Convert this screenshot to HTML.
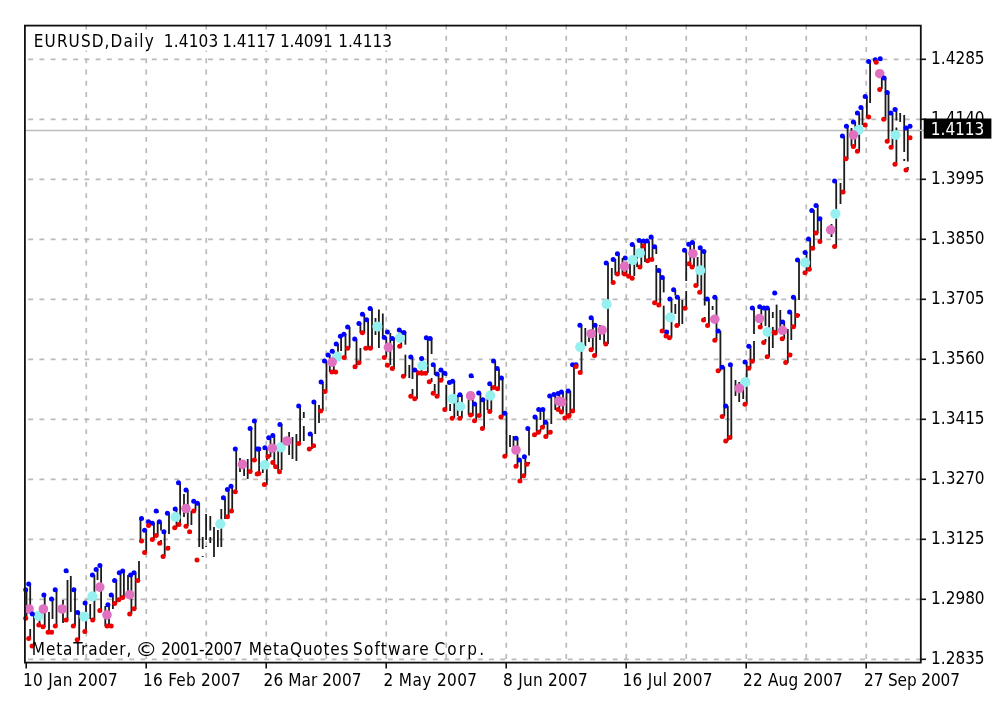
<!DOCTYPE html><html><head><meta charset="utf-8"><style>
html,body{margin:0;padding:0;background:#fff;width:1003px;height:713px;overflow:hidden}
svg{display:block;filter:blur(0.45px)}
text{font-family:'DejaVu Sans Condensed', 'DejaVu Sans', 'Liberation Sans', sans-serif;font-size:17px;fill:#000;font-stretch:condensed}
</style></head><body>
<svg width="1003" height="713" viewBox="0 0 1003 713">
<rect width="1003" height="713" fill="#fff"/>
<g stroke="#bababa" stroke-width="1.7" stroke-dasharray="4.9 6.34" fill="none">
<line x1="28.2" y1="59.3" x2="920" y2="59.3"/>
<line x1="28.2" y1="119.3" x2="920" y2="119.3"/>
<line x1="28.2" y1="179.3" x2="920" y2="179.3"/>
<line x1="28.2" y1="239.3" x2="920" y2="239.3"/>
<line x1="28.2" y1="299.3" x2="920" y2="299.3"/>
<line x1="28.2" y1="359.3" x2="920" y2="359.3"/>
<line x1="28.2" y1="419.3" x2="920" y2="419.3"/>
<line x1="28.2" y1="479.3" x2="920" y2="479.3"/>
<line x1="28.2" y1="539.3" x2="920" y2="539.3"/>
<line x1="28.2" y1="599.3" x2="920" y2="599.3"/>
<line x1="28.2" y1="659.3" x2="920" y2="659.3"/>
<line x1="86.25" y1="24.55" x2="86.25" y2="662"/>
<line x1="146.25" y1="24.55" x2="146.25" y2="662"/>
<line x1="206.25" y1="24.55" x2="206.25" y2="662"/>
<line x1="266.25" y1="24.55" x2="266.25" y2="662"/>
<line x1="326.25" y1="24.55" x2="326.25" y2="662"/>
<line x1="386.25" y1="24.55" x2="386.25" y2="662"/>
<line x1="446.25" y1="24.55" x2="446.25" y2="662"/>
<line x1="506.25" y1="24.55" x2="506.25" y2="662"/>
<line x1="566.25" y1="24.55" x2="566.25" y2="662"/>
<line x1="626.25" y1="24.55" x2="626.25" y2="662"/>
<line x1="686.25" y1="24.55" x2="686.25" y2="662"/>
<line x1="746.25" y1="24.55" x2="746.25" y2="662"/>
<line x1="806.25" y1="24.55" x2="806.25" y2="662"/>
<line x1="866.25" y1="24.55" x2="866.25" y2="662"/>
</g>
<line x1="25" y1="130.4" x2="924" y2="130.4" stroke="#bdbdbd" stroke-width="1.5"/>
<g stroke="#1c1c1c" stroke-width="1.8" fill="none">
<line x1="26.5" y1="589.0" x2="26.5" y2="618.0"/>
<line x1="30.2" y1="584.0" x2="30.2" y2="614.0"/>
<line x1="30.2" y1="629.0" x2="30.2" y2="639.0"/>
<line x1="34.0" y1="614.0" x2="34.0" y2="646.0"/>
<line x1="39.5" y1="612.0" x2="39.5" y2="625.0"/>
<line x1="44.7" y1="595.0" x2="44.7" y2="627.0"/>
<line x1="49.0" y1="612.0" x2="49.0" y2="632.0"/>
<line x1="52.5" y1="599.0" x2="52.5" y2="619.0"/>
<line x1="52.5" y1="630.0" x2="52.5" y2="632.0"/>
<line x1="56.5" y1="590.0" x2="56.5" y2="626.0"/>
<line x1="63.0" y1="600.0" x2="63.0" y2="623.0"/>
<line x1="67.5" y1="571.0" x2="67.5" y2="573.0"/>
<line x1="67.5" y1="580.0" x2="67.5" y2="620.0"/>
<line x1="70.8" y1="576.0" x2="70.8" y2="612.0"/>
<line x1="75.0" y1="590.0" x2="75.0" y2="626.0"/>
<line x1="79.2" y1="612.0" x2="79.2" y2="640.0"/>
<line x1="86.0" y1="603.0" x2="86.0" y2="631.0"/>
<line x1="90.2" y1="604.0" x2="90.2" y2="619.0"/>
<line x1="94.4" y1="575.0" x2="94.4" y2="620.0"/>
<line x1="97.5" y1="569.5" x2="97.5" y2="580.0"/>
<line x1="101.1" y1="565.6" x2="101.1" y2="611.0"/>
<line x1="105.3" y1="606.0" x2="105.3" y2="626.0"/>
<line x1="109.0" y1="605.0" x2="109.0" y2="626.0"/>
<line x1="112.9" y1="595.0" x2="112.9" y2="609.0"/>
<line x1="116.3" y1="580.0" x2="116.3" y2="604.0"/>
<line x1="120.5" y1="573.0" x2="120.5" y2="600.0"/>
<line x1="123.9" y1="571.0" x2="123.9" y2="598.0"/>
<line x1="128.0" y1="575.0" x2="128.0" y2="597.0"/>
<line x1="131.4" y1="574.0" x2="131.4" y2="614.0"/>
<line x1="135.6" y1="573.0" x2="135.6" y2="609.0"/>
<line x1="139.0" y1="561.0" x2="139.0" y2="581.0"/>
<line x1="140.5" y1="519.0" x2="140.5" y2="541.0"/>
<line x1="146.2" y1="530.0" x2="146.2" y2="552.0"/>
<line x1="150.0" y1="521.0" x2="150.0" y2="526.0"/>
<line x1="153.9" y1="523.0" x2="153.9" y2="539.0"/>
<line x1="157.7" y1="511.0" x2="157.7" y2="513.0"/>
<line x1="157.7" y1="522.0" x2="157.7" y2="535.0"/>
<line x1="161.0" y1="522.0" x2="161.0" y2="530.5"/>
<line x1="161.0" y1="540.0" x2="161.0" y2="543.0"/>
<line x1="164.7" y1="532.0" x2="164.7" y2="556.0"/>
<line x1="169.0" y1="513.0" x2="169.0" y2="534.0"/>
<line x1="169.0" y1="546.0" x2="169.0" y2="548.0"/>
<line x1="176.5" y1="509.0" x2="176.5" y2="528.0"/>
<line x1="180.1" y1="483.0" x2="180.1" y2="524.0"/>
<line x1="184.0" y1="494.0" x2="184.0" y2="517.0"/>
<line x1="187.8" y1="490.0" x2="187.8" y2="526.0"/>
<line x1="191.4" y1="511.0" x2="191.4" y2="525.0"/>
<line x1="195.5" y1="501.0" x2="195.5" y2="511.0"/>
<line x1="199.2" y1="503.0" x2="199.2" y2="547.0"/>
<line x1="202.7" y1="537.0" x2="202.7" y2="549.0"/>
<line x1="202.7" y1="556.0" x2="202.7" y2="557.0"/>
<line x1="206.1" y1="514.0" x2="206.1" y2="540.0"/>
<line x1="206.1" y1="546.0" x2="206.1" y2="547.0"/>
<line x1="210.3" y1="516.0" x2="210.3" y2="530.5"/>
<line x1="210.3" y1="537.0" x2="210.3" y2="543.0"/>
<line x1="214.0" y1="527.0" x2="214.0" y2="557.0"/>
<line x1="217.9" y1="530.0" x2="217.9" y2="547.0"/>
<line x1="221.3" y1="509.0" x2="221.3" y2="547.0"/>
<line x1="225.0" y1="498.0" x2="225.0" y2="519.0"/>
<line x1="228.6" y1="489.0" x2="228.6" y2="517.0"/>
<line x1="232.2" y1="486.0" x2="232.2" y2="512.0"/>
<line x1="236.2" y1="449.0" x2="236.2" y2="492.0"/>
<line x1="240.0" y1="458.0" x2="240.0" y2="472.0"/>
<line x1="244.1" y1="460.0" x2="244.1" y2="476.0"/>
<line x1="247.7" y1="459.0" x2="247.7" y2="479.0"/>
<line x1="251.3" y1="428.0" x2="251.3" y2="472.0"/>
<line x1="255.3" y1="421.0" x2="255.3" y2="461.0"/>
<line x1="259.1" y1="449.0" x2="259.1" y2="474.0"/>
<line x1="262.8" y1="462.0" x2="262.8" y2="473.0"/>
<line x1="266.8" y1="448.0" x2="266.8" y2="485.0"/>
<line x1="270.5" y1="438.0" x2="270.5" y2="457.0"/>
<line x1="274.3" y1="436.0" x2="274.3" y2="467.0"/>
<line x1="278.2" y1="445.0" x2="278.2" y2="472.0"/>
<line x1="281.6" y1="424.0" x2="281.6" y2="470.0"/>
<line x1="289.1" y1="432.0" x2="289.1" y2="455.0"/>
<line x1="292.5" y1="437.0" x2="292.5" y2="459.0"/>
<line x1="296.4" y1="434.0" x2="296.4" y2="461.0"/>
<line x1="300.1" y1="406.0" x2="300.1" y2="444.0"/>
<line x1="303.8" y1="412.0" x2="303.8" y2="418.0"/>
<line x1="303.8" y1="426.0" x2="303.8" y2="441.0"/>
<line x1="311.9" y1="434.0" x2="311.9" y2="449.0"/>
<line x1="315.2" y1="402.0" x2="315.2" y2="434.0"/>
<line x1="319.0" y1="405.0" x2="319.0" y2="423.0"/>
<line x1="322.8" y1="382.0" x2="322.8" y2="411.0"/>
<line x1="326.5" y1="361.0" x2="326.5" y2="391.0"/>
<line x1="329.8" y1="355.0" x2="329.8" y2="372.0"/>
<line x1="333.8" y1="351.0" x2="333.8" y2="372.0"/>
<line x1="338.0" y1="344.0" x2="338.0" y2="360.0"/>
<line x1="341.1" y1="336.0" x2="341.1" y2="351.0"/>
<line x1="345.5" y1="334.0" x2="345.5" y2="357.0"/>
<line x1="349.6" y1="327.0" x2="349.6" y2="348.0"/>
<line x1="356.5" y1="339.0" x2="356.5" y2="367.0"/>
<line x1="360.4" y1="323.0" x2="360.4" y2="333.0"/>
<line x1="360.4" y1="348.0" x2="360.4" y2="363.0"/>
<line x1="364.3" y1="314.0" x2="364.3" y2="333.0"/>
<line x1="368.1" y1="320.0" x2="368.1" y2="348.0"/>
<line x1="372.0" y1="308.6" x2="372.0" y2="349.0"/>
<line x1="375.5" y1="318.0" x2="375.5" y2="335.0"/>
<line x1="378.9" y1="309.6" x2="378.9" y2="348.0"/>
<line x1="382.8" y1="313.5" x2="382.8" y2="338.0"/>
<line x1="386.3" y1="337.0" x2="386.3" y2="357.0"/>
<line x1="390.3" y1="333.0" x2="390.3" y2="365.0"/>
<line x1="394.0" y1="338.0" x2="394.0" y2="369.0"/>
<line x1="401.2" y1="330.0" x2="401.2" y2="346.0"/>
<line x1="405.4" y1="332.0" x2="405.4" y2="344.7"/>
<line x1="405.4" y1="354.7" x2="405.4" y2="376.0"/>
<line x1="409.3" y1="365.0" x2="409.3" y2="378.0"/>
<line x1="412.5" y1="357.0" x2="412.5" y2="379.0"/>
<line x1="412.5" y1="389.0" x2="412.5" y2="396.0"/>
<line x1="417.0" y1="370.0" x2="417.0" y2="399.0"/>
<line x1="421.5" y1="358.0" x2="421.5" y2="373.0"/>
<line x1="427.8" y1="338.0" x2="427.8" y2="373.0"/>
<line x1="431.6" y1="338.0" x2="431.6" y2="354.0"/>
<line x1="431.6" y1="378.0" x2="431.6" y2="382.0"/>
<line x1="434.7" y1="365.0" x2="434.7" y2="375.0"/>
<line x1="434.7" y1="384.0" x2="434.7" y2="393.0"/>
<line x1="438.6" y1="374.0" x2="438.6" y2="396.0"/>
<line x1="442.5" y1="370.0" x2="442.5" y2="380.0"/>
<line x1="446.3" y1="373.0" x2="446.3" y2="376.0"/>
<line x1="446.3" y1="385.0" x2="446.3" y2="409.0"/>
<line x1="450.1" y1="404.0" x2="450.1" y2="411.0"/>
<line x1="454.3" y1="381.0" x2="454.3" y2="418.0"/>
<line x1="457.7" y1="395.0" x2="457.7" y2="416.0"/>
<line x1="461.9" y1="395.0" x2="461.9" y2="418.0"/>
<line x1="468.6" y1="400.0" x2="468.6" y2="415.0"/>
<line x1="472.8" y1="376.0" x2="472.8" y2="378.0"/>
<line x1="472.8" y1="392.0" x2="472.8" y2="416.0"/>
<line x1="476.2" y1="404.0" x2="476.2" y2="421.0"/>
<line x1="480.4" y1="393.0" x2="480.4" y2="416.0"/>
<line x1="484.1" y1="400.0" x2="484.1" y2="428.0"/>
<line x1="487.5" y1="395.0" x2="487.5" y2="410.0"/>
<line x1="491.3" y1="384.0" x2="491.3" y2="412.0"/>
<line x1="495.2" y1="361.0" x2="495.2" y2="388.0"/>
<line x1="499.0" y1="369.0" x2="499.0" y2="389.0"/>
<line x1="502.6" y1="378.0" x2="502.6" y2="417.0"/>
<line x1="506.5" y1="413.0" x2="506.5" y2="456.0"/>
<line x1="510.0" y1="435.0" x2="510.0" y2="447.0"/>
<line x1="513.5" y1="436.0" x2="513.5" y2="447.0"/>
<line x1="517.5" y1="438.0" x2="517.5" y2="466.0"/>
<line x1="521.0" y1="460.0" x2="521.0" y2="481.0"/>
<line x1="525.3" y1="456.0" x2="525.3" y2="476.0"/>
<line x1="529.0" y1="428.0" x2="529.0" y2="455.5"/>
<line x1="529.0" y1="462.0" x2="529.0" y2="464.0"/>
<line x1="536.7" y1="417.0" x2="536.7" y2="435.0"/>
<line x1="540.4" y1="409.0" x2="540.4" y2="420.0"/>
<line x1="540.4" y1="429.0" x2="540.4" y2="432.0"/>
<line x1="543.8" y1="409.0" x2="543.8" y2="427.0"/>
<line x1="547.5" y1="422.0" x2="547.5" y2="436.0"/>
<line x1="551.3" y1="396.0" x2="551.3" y2="424.0"/>
<line x1="551.3" y1="430.0" x2="551.3" y2="432.0"/>
<line x1="555.3" y1="394.0" x2="555.3" y2="410.0"/>
<line x1="559.3" y1="393.0" x2="559.3" y2="410.0"/>
<line x1="563.0" y1="392.0" x2="563.0" y2="412.0"/>
<line x1="566.5" y1="391.0" x2="566.5" y2="418.0"/>
<line x1="570.3" y1="391.0" x2="570.3" y2="416.0"/>
<line x1="574.0" y1="365.0" x2="574.0" y2="411.0"/>
<line x1="581.5" y1="325.0" x2="581.5" y2="372.0"/>
<line x1="585.3" y1="328.0" x2="585.3" y2="346.0"/>
<line x1="589.0" y1="330.0" x2="589.0" y2="342.0"/>
<line x1="592.8" y1="318.0" x2="592.8" y2="350.0"/>
<line x1="596.2" y1="325.0" x2="596.2" y2="356.0"/>
<line x1="600.0" y1="325.0" x2="600.0" y2="340.0"/>
<line x1="604.1" y1="329.0" x2="604.1" y2="344.0"/>
<line x1="608.0" y1="263.0" x2="608.0" y2="344.0"/>
<line x1="611.8" y1="268.0" x2="611.8" y2="283.0"/>
<line x1="615.3" y1="259.0" x2="615.3" y2="275.0"/>
<line x1="618.8" y1="254.0" x2="618.8" y2="274.0"/>
<line x1="622.5" y1="258.0" x2="622.5" y2="275.0"/>
<line x1="626.5" y1="262.0" x2="626.5" y2="276.0"/>
<line x1="630.0" y1="262.0" x2="630.0" y2="278.0"/>
<line x1="634.3" y1="245.0" x2="634.3" y2="276.0"/>
<line x1="637.1" y1="255.0" x2="637.1" y2="267.0"/>
<line x1="641.3" y1="240.0" x2="641.3" y2="267.0"/>
<line x1="645.0" y1="241.0" x2="645.0" y2="262.0"/>
<line x1="649.0" y1="241.0" x2="649.0" y2="261.0"/>
<line x1="652.5" y1="237.0" x2="652.5" y2="259.0"/>
<line x1="656.3" y1="247.0" x2="656.3" y2="254.0"/>
<line x1="656.3" y1="265.0" x2="656.3" y2="303.0"/>
<line x1="660.2" y1="271.0" x2="660.2" y2="306.0"/>
<line x1="663.7" y1="278.0" x2="663.7" y2="292.4"/>
<line x1="663.7" y1="305.7" x2="663.7" y2="331.0"/>
<line x1="667.5" y1="330.0" x2="667.5" y2="337.0"/>
<line x1="671.5" y1="299.0" x2="671.5" y2="338.0"/>
<line x1="675.3" y1="290.0" x2="675.3" y2="295.5"/>
<line x1="675.3" y1="304.0" x2="675.3" y2="314.0"/>
<line x1="679.0" y1="297.0" x2="679.0" y2="326.0"/>
<line x1="682.3" y1="300.0" x2="682.3" y2="324.0"/>
<line x1="686.2" y1="250.0" x2="686.2" y2="281.0"/>
<line x1="686.2" y1="291.0" x2="686.2" y2="309.0"/>
<line x1="690.3" y1="244.0" x2="690.3" y2="264.0"/>
<line x1="694.0" y1="242.0" x2="694.0" y2="267.0"/>
<line x1="697.6" y1="257.0" x2="697.6" y2="286.0"/>
<line x1="701.3" y1="248.0" x2="701.3" y2="292.0"/>
<line x1="704.7" y1="251.0" x2="704.7" y2="305.5"/>
<line x1="704.7" y1="317.0" x2="704.7" y2="320.0"/>
<line x1="708.9" y1="299.0" x2="708.9" y2="326.0"/>
<line x1="712.6" y1="306.0" x2="712.6" y2="310.0"/>
<line x1="716.5" y1="297.0" x2="716.5" y2="340.0"/>
<line x1="720.4" y1="331.0" x2="720.4" y2="371.0"/>
<line x1="724.3" y1="367.0" x2="724.3" y2="416.0"/>
<line x1="727.8" y1="406.0" x2="727.8" y2="441.0"/>
<line x1="731.3" y1="365.0" x2="731.3" y2="438.0"/>
<line x1="735.5" y1="380.0" x2="735.5" y2="396.0"/>
<line x1="739.2" y1="382.0" x2="739.2" y2="402.0"/>
<line x1="743.2" y1="385.0" x2="743.2" y2="399.0"/>
<line x1="746.7" y1="362.0" x2="746.7" y2="404.0"/>
<line x1="750.5" y1="346.0" x2="750.5" y2="368.0"/>
<line x1="754.0" y1="308.0" x2="754.0" y2="334.0"/>
<line x1="754.0" y1="341.0" x2="754.0" y2="361.0"/>
<line x1="761.3" y1="306.7" x2="761.3" y2="327.5"/>
<line x1="765.5" y1="308.0" x2="765.5" y2="326.0"/>
<line x1="765.5" y1="339.0" x2="765.5" y2="342.0"/>
<line x1="769.1" y1="308.0" x2="769.1" y2="357.0"/>
<line x1="772.8" y1="312.0" x2="772.8" y2="318.0"/>
<line x1="772.8" y1="327.0" x2="772.8" y2="348.0"/>
<line x1="776.6" y1="293.0" x2="776.6" y2="293.5"/>
<line x1="776.6" y1="304.6" x2="776.6" y2="333.0"/>
<line x1="780.3" y1="310.0" x2="780.3" y2="330.0"/>
<line x1="784.2" y1="322.0" x2="784.2" y2="339.0"/>
<line x1="787.8" y1="329.0" x2="787.8" y2="363.0"/>
<line x1="791.3" y1="312.0" x2="791.3" y2="340.0"/>
<line x1="791.3" y1="353.0" x2="791.3" y2="355.0"/>
<line x1="795.2" y1="297.0" x2="795.2" y2="327.0"/>
<line x1="799.0" y1="260.0" x2="799.0" y2="300.0"/>
<line x1="799.0" y1="314.0" x2="799.0" y2="316.0"/>
<line x1="806.5" y1="252.0" x2="806.5" y2="273.0"/>
<line x1="810.2" y1="239.0" x2="810.2" y2="269.0"/>
<line x1="813.9" y1="210.0" x2="813.9" y2="248.0"/>
<line x1="817.7" y1="205.0" x2="817.7" y2="233.0"/>
<line x1="821.1" y1="219.0" x2="821.1" y2="242.0"/>
<line x1="831.5" y1="224.0" x2="831.5" y2="237.0"/>
<line x1="836.2" y1="181.0" x2="836.2" y2="247.0"/>
<line x1="840.5" y1="183.0" x2="840.5" y2="204.0"/>
<line x1="844.2" y1="136.0" x2="844.2" y2="192.0"/>
<line x1="847.6" y1="126.0" x2="847.6" y2="159.0"/>
<line x1="851.5" y1="128.0" x2="851.5" y2="146.0"/>
<line x1="855.2" y1="122.0" x2="855.2" y2="147.0"/>
<line x1="859.2" y1="113.0" x2="859.2" y2="151.0"/>
<line x1="862.5" y1="107.5" x2="862.5" y2="125.0"/>
<line x1="866.9" y1="96.5" x2="866.9" y2="118.0"/>
<line x1="870.1" y1="61.4" x2="870.1" y2="103.0"/>
<line x1="881.8" y1="75.0" x2="881.8" y2="89.0"/>
<line x1="885.5" y1="78.0" x2="885.5" y2="119.0"/>
<line x1="888.5" y1="92.0" x2="888.5" y2="141.0"/>
<line x1="892.5" y1="113.0" x2="892.5" y2="147.0"/>
<line x1="896.4" y1="108.0" x2="896.4" y2="120.5"/>
<line x1="896.4" y1="127.5" x2="896.4" y2="164.0"/>
<line x1="900.2" y1="113.0" x2="900.2" y2="122.0"/>
<line x1="904.2" y1="115.0" x2="904.2" y2="152.0"/>
<line x1="904.2" y1="159.0" x2="904.2" y2="161.0"/>
<line x1="907.8" y1="128.0" x2="907.8" y2="161.5"/>
<line x1="907.8" y1="167.0" x2="907.8" y2="170.0"/>
</g>
<g fill="#96f0f0">
<circle cx="38.8" cy="615.8" r="5.1"/>
<circle cx="84.3" cy="616.6" r="5.1"/>
<circle cx="92.4" cy="596.4" r="5.1"/>
<circle cx="175.5" cy="517.0" r="5.1"/>
<circle cx="220.3" cy="524.0" r="5.1"/>
<circle cx="264.8" cy="465.0" r="5.1"/>
<circle cx="280.7" cy="447.3" r="5.1"/>
<circle cx="337.3" cy="356.7" r="5.1"/>
<circle cx="377.4" cy="326.6" r="5.1"/>
<circle cx="400.0" cy="337.8" r="5.1"/>
<circle cx="422.4" cy="365.5" r="5.1"/>
<circle cx="452.6" cy="398.9" r="5.1"/>
<circle cx="460.2" cy="406.5" r="5.1"/>
<circle cx="490.2" cy="395.6" r="5.1"/>
<circle cx="580.2" cy="347.1" r="5.1"/>
<circle cx="606.6" cy="304.2" r="5.1"/>
<circle cx="632.9" cy="260.1" r="5.1"/>
<circle cx="639.9" cy="253.0" r="5.1"/>
<circle cx="670.2" cy="317.5" r="5.1"/>
<circle cx="700.2" cy="270.4" r="5.1"/>
<circle cx="745.3" cy="382.2" r="5.1"/>
<circle cx="767.5" cy="332.0" r="5.1"/>
<circle cx="805.1" cy="262.6" r="5.1"/>
<circle cx="835.4" cy="213.8" r="5.1"/>
<circle cx="858.7" cy="129.8" r="5.1"/>
<circle cx="895.5" cy="135.0" r="5.1"/>
</g><g fill="#e070c0">
<circle cx="29.1" cy="609.0" r="4.8"/>
<circle cx="43.4" cy="609.0" r="4.8"/>
<circle cx="62.1" cy="609.0" r="4.8"/>
<circle cx="99.8" cy="587.1" r="4.8"/>
<circle cx="107.0" cy="614.9" r="4.8"/>
<circle cx="129.7" cy="594.7" r="4.8"/>
<circle cx="186.0" cy="508.6" r="4.8"/>
<circle cx="242.4" cy="464.4" r="4.8"/>
<circle cx="272.3" cy="448.2" r="4.8"/>
<circle cx="287.0" cy="441.0" r="4.8"/>
<circle cx="332.2" cy="362.1" r="4.8"/>
<circle cx="388.4" cy="347.4" r="4.8"/>
<circle cx="470.6" cy="395.9" r="4.8"/>
<circle cx="516.0" cy="450.0" r="4.8"/>
<circle cx="558.9" cy="401.1" r="4.8"/>
<circle cx="561.7" cy="401.9" r="4.8"/>
<circle cx="591.1" cy="333.7" r="4.8"/>
<circle cx="602.1" cy="330.0" r="4.8"/>
<circle cx="624.5" cy="266.4" r="4.8"/>
<circle cx="692.9" cy="253.6" r="4.8"/>
<circle cx="714.8" cy="319.2" r="4.8"/>
<circle cx="739.2" cy="388.4" r="4.8"/>
<circle cx="759.5" cy="318.5" r="4.8"/>
<circle cx="782.6" cy="330.3" r="4.8"/>
<circle cx="830.7" cy="229.8" r="4.8"/>
<circle cx="853.4" cy="135.0" r="4.8"/>
<circle cx="879.7" cy="73.7" r="4.8"/>
</g>
<g fill="#0000ff">
<circle cx="25.7" cy="589.7" r="2.5"/>
<circle cx="28.7" cy="584.1" r="2.5"/>
<circle cx="32.4" cy="614.0" r="2.5"/>
<circle cx="43.9" cy="595.0" r="2.5"/>
<circle cx="51.5" cy="599.0" r="2.5"/>
<circle cx="55.2" cy="589.7" r="2.5"/>
<circle cx="66.1" cy="570.8" r="2.5"/>
<circle cx="73.9" cy="589.7" r="2.5"/>
<circle cx="77.6" cy="612.4" r="2.5"/>
<circle cx="85.1" cy="603.1" r="2.5"/>
<circle cx="92.4" cy="575.0" r="2.5"/>
<circle cx="96.1" cy="569.5" r="2.5"/>
<circle cx="99.9" cy="565.6" r="2.5"/>
<circle cx="107.9" cy="604.8" r="2.5"/>
<circle cx="111.2" cy="595.0" r="2.5"/>
<circle cx="114.6" cy="580.4" r="2.5"/>
<circle cx="119.3" cy="572.8" r="2.5"/>
<circle cx="122.7" cy="571.1" r="2.5"/>
<circle cx="130.6" cy="575.0" r="2.5"/>
<circle cx="134.0" cy="572.8" r="2.5"/>
<circle cx="141.5" cy="518.6" r="2.5"/>
<circle cx="144.6" cy="530.2" r="2.5"/>
<circle cx="148.5" cy="521.7" r="2.5"/>
<circle cx="152.3" cy="523.2" r="2.5"/>
<circle cx="156.2" cy="510.9" r="2.5"/>
<circle cx="159.3" cy="521.7" r="2.5"/>
<circle cx="163.9" cy="531.7" r="2.5"/>
<circle cx="167.4" cy="513.2" r="2.5"/>
<circle cx="175.2" cy="509.0" r="2.5"/>
<circle cx="178.5" cy="482.8" r="2.5"/>
<circle cx="186.0" cy="490.0" r="2.5"/>
<circle cx="193.7" cy="501.3" r="2.5"/>
<circle cx="197.4" cy="503.2" r="2.5"/>
<circle cx="223.4" cy="497.8" r="2.5"/>
<circle cx="227.4" cy="489.4" r="2.5"/>
<circle cx="231.0" cy="486.3" r="2.5"/>
<circle cx="235.3" cy="448.9" r="2.5"/>
<circle cx="250.1" cy="428.6" r="2.5"/>
<circle cx="254.4" cy="421.0" r="2.5"/>
<circle cx="257.2" cy="448.9" r="2.5"/>
<circle cx="264.9" cy="447.7" r="2.5"/>
<circle cx="268.7" cy="437.7" r="2.5"/>
<circle cx="258.8" cy="449.0" r="2.5"/>
<circle cx="272.8" cy="435.6" r="2.5"/>
<circle cx="279.9" cy="424.6" r="2.5"/>
<circle cx="298.7" cy="406.1" r="2.5"/>
<circle cx="310.2" cy="433.9" r="2.5"/>
<circle cx="313.9" cy="401.9" r="2.5"/>
<circle cx="321.1" cy="382.0" r="2.5"/>
<circle cx="324.5" cy="361.0" r="2.5"/>
<circle cx="328.0" cy="355.1" r="2.5"/>
<circle cx="332.2" cy="351.3" r="2.5"/>
<circle cx="336.2" cy="344.0" r="2.5"/>
<circle cx="340.4" cy="336.3" r="2.5"/>
<circle cx="343.9" cy="334.3" r="2.5"/>
<circle cx="347.6" cy="327.1" r="2.5"/>
<circle cx="354.7" cy="339.0" r="2.5"/>
<circle cx="358.9" cy="323.5" r="2.5"/>
<circle cx="362.4" cy="314.3" r="2.5"/>
<circle cx="366.6" cy="319.7" r="2.5"/>
<circle cx="370.1" cy="308.6" r="2.5"/>
<circle cx="384.3" cy="337.4" r="2.5"/>
<circle cx="387.4" cy="332.0" r="2.5"/>
<circle cx="392.3" cy="338.5" r="2.5"/>
<circle cx="399.3" cy="330.0" r="2.5"/>
<circle cx="403.9" cy="332.4" r="2.5"/>
<circle cx="410.8" cy="357.0" r="2.5"/>
<circle cx="414.7" cy="370.1" r="2.5"/>
<circle cx="421.6" cy="358.6" r="2.5"/>
<circle cx="426.3" cy="337.8" r="2.5"/>
<circle cx="430.1" cy="338.5" r="2.5"/>
<circle cx="433.2" cy="364.7" r="2.5"/>
<circle cx="437.0" cy="374.0" r="2.5"/>
<circle cx="440.9" cy="370.1" r="2.5"/>
<circle cx="444.8" cy="373.2" r="2.5"/>
<circle cx="449.4" cy="382.5" r="2.5"/>
<circle cx="452.6" cy="381.2" r="2.5"/>
<circle cx="459.9" cy="394.7" r="2.5"/>
<circle cx="471.1" cy="375.7" r="2.5"/>
<circle cx="474.5" cy="404.0" r="2.5"/>
<circle cx="478.7" cy="393.0" r="2.5"/>
<circle cx="482.9" cy="399.8" r="2.5"/>
<circle cx="489.7" cy="383.8" r="2.5"/>
<circle cx="493.5" cy="361.0" r="2.5"/>
<circle cx="497.2" cy="368.6" r="2.5"/>
<circle cx="501.4" cy="377.9" r="2.5"/>
<circle cx="504.8" cy="413.2" r="2.5"/>
<circle cx="516.0" cy="438.2" r="2.5"/>
<circle cx="519.4" cy="460.0" r="2.5"/>
<circle cx="524.4" cy="456.7" r="2.5"/>
<circle cx="527.8" cy="428.6" r="2.5"/>
<circle cx="535.0" cy="417.1" r="2.5"/>
<circle cx="538.7" cy="409.6" r="2.5"/>
<circle cx="542.9" cy="409.6" r="2.5"/>
<circle cx="545.5" cy="422.2" r="2.5"/>
<circle cx="549.7" cy="396.1" r="2.5"/>
<circle cx="553.9" cy="394.4" r="2.5"/>
<circle cx="558.1" cy="393.6" r="2.5"/>
<circle cx="561.4" cy="391.9" r="2.5"/>
<circle cx="568.2" cy="391.0" r="2.5"/>
<circle cx="572.6" cy="364.8" r="2.5"/>
<circle cx="576.0" cy="364.8" r="2.5"/>
<circle cx="579.9" cy="325.3" r="2.5"/>
<circle cx="591.1" cy="317.7" r="2.5"/>
<circle cx="595.0" cy="325.3" r="2.5"/>
<circle cx="606.2" cy="262.9" r="2.5"/>
<circle cx="613.2" cy="259.4" r="2.5"/>
<circle cx="617.4" cy="253.8" r="2.5"/>
<circle cx="625.2" cy="258.0" r="2.5"/>
<circle cx="632.2" cy="244.6" r="2.5"/>
<circle cx="639.2" cy="240.4" r="2.5"/>
<circle cx="643.4" cy="241.1" r="2.5"/>
<circle cx="646.9" cy="241.1" r="2.5"/>
<circle cx="651.1" cy="236.9" r="2.5"/>
<circle cx="654.6" cy="246.7" r="2.5"/>
<circle cx="658.8" cy="270.6" r="2.5"/>
<circle cx="662.3" cy="277.6" r="2.5"/>
<circle cx="666.5" cy="331.9" r="2.5"/>
<circle cx="669.9" cy="299.0" r="2.5"/>
<circle cx="673.6" cy="289.8" r="2.5"/>
<circle cx="677.3" cy="297.3" r="2.5"/>
<circle cx="684.5" cy="250.2" r="2.5"/>
<circle cx="688.7" cy="244.3" r="2.5"/>
<circle cx="692.4" cy="242.6" r="2.5"/>
<circle cx="700.2" cy="247.7" r="2.5"/>
<circle cx="703.9" cy="251.5" r="2.5"/>
<circle cx="707.2" cy="299.0" r="2.5"/>
<circle cx="714.8" cy="297.3" r="2.5"/>
<circle cx="718.2" cy="331.0" r="2.5"/>
<circle cx="722.2" cy="367.3" r="2.5"/>
<circle cx="730.4" cy="364.7" r="2.5"/>
<circle cx="725.7" cy="405.9" r="2.5"/>
<circle cx="745.0" cy="362.1" r="2.5"/>
<circle cx="748.8" cy="346.3" r="2.5"/>
<circle cx="752.3" cy="308.1" r="2.5"/>
<circle cx="759.7" cy="306.7" r="2.5"/>
<circle cx="763.9" cy="308.1" r="2.5"/>
<circle cx="767.2" cy="308.1" r="2.5"/>
<circle cx="774.7" cy="293.1" r="2.5"/>
<circle cx="782.6" cy="321.9" r="2.5"/>
<circle cx="789.6" cy="312.1" r="2.5"/>
<circle cx="793.4" cy="297.3" r="2.5"/>
<circle cx="797.5" cy="260.0" r="2.5"/>
<circle cx="805.1" cy="252.5" r="2.5"/>
<circle cx="808.5" cy="239.0" r="2.5"/>
<circle cx="811.8" cy="210.4" r="2.5"/>
<circle cx="816.0" cy="205.4" r="2.5"/>
<circle cx="819.9" cy="218.8" r="2.5"/>
<circle cx="834.6" cy="181.0" r="2.5"/>
<circle cx="842.4" cy="135.9" r="2.5"/>
<circle cx="846.4" cy="126.3" r="2.5"/>
<circle cx="853.4" cy="121.9" r="2.5"/>
<circle cx="857.4" cy="113.1" r="2.5"/>
<circle cx="860.9" cy="107.5" r="2.5"/>
<circle cx="865.2" cy="96.5" r="2.5"/>
<circle cx="868.7" cy="61.4" r="2.5"/>
<circle cx="875.3" cy="59.8" r="2.5"/>
<circle cx="880.2" cy="58.8" r="2.5"/>
<circle cx="884.1" cy="78.0" r="2.5"/>
<circle cx="887.2" cy="92.4" r="2.5"/>
<circle cx="890.8" cy="113.1" r="2.5"/>
<circle cx="895.0" cy="109.6" r="2.5"/>
<circle cx="906.0" cy="128.0" r="2.5"/>
<circle cx="910.0" cy="126.3" r="2.5"/>
</g><g fill="#ee0000">
<circle cx="25.7" cy="618.3" r="2.5"/>
<circle cx="28.7" cy="638.5" r="2.5"/>
<circle cx="32.1" cy="646.0" r="2.5"/>
<circle cx="38.8" cy="625.0" r="2.5"/>
<circle cx="43.0" cy="626.7" r="2.5"/>
<circle cx="48.1" cy="632.3" r="2.5"/>
<circle cx="51.5" cy="632.3" r="2.5"/>
<circle cx="55.3" cy="625.9" r="2.5"/>
<circle cx="66.1" cy="620.0" r="2.5"/>
<circle cx="73.3" cy="625.9" r="2.5"/>
<circle cx="77.2" cy="639.8" r="2.5"/>
<circle cx="84.8" cy="631.4" r="2.5"/>
<circle cx="92.7" cy="620.0" r="2.5"/>
<circle cx="99.8" cy="610.4" r="2.5"/>
<circle cx="107.0" cy="625.9" r="2.5"/>
<circle cx="111.2" cy="625.9" r="2.5"/>
<circle cx="114.6" cy="603.6" r="2.5"/>
<circle cx="118.8" cy="599.8" r="2.5"/>
<circle cx="122.7" cy="597.6" r="2.5"/>
<circle cx="129.7" cy="614.0" r="2.5"/>
<circle cx="134.0" cy="608.7" r="2.5"/>
<circle cx="137.8" cy="580.4" r="2.5"/>
<circle cx="141.5" cy="541.0" r="2.5"/>
<circle cx="144.6" cy="552.5" r="2.5"/>
<circle cx="148.5" cy="525.5" r="2.5"/>
<circle cx="152.3" cy="539.4" r="2.5"/>
<circle cx="156.2" cy="535.5" r="2.5"/>
<circle cx="159.7" cy="543.3" r="2.5"/>
<circle cx="163.1" cy="556.4" r="2.5"/>
<circle cx="167.8" cy="548.2" r="2.5"/>
<circle cx="174.7" cy="527.8" r="2.5"/>
<circle cx="178.9" cy="524.4" r="2.5"/>
<circle cx="186.0" cy="526.3" r="2.5"/>
<circle cx="189.6" cy="531.7" r="2.5"/>
<circle cx="193.7" cy="510.9" r="2.5"/>
<circle cx="197.0" cy="559.9" r="2.5"/>
<circle cx="227.4" cy="516.8" r="2.5"/>
<circle cx="231.5" cy="510.9" r="2.5"/>
<circle cx="235.3" cy="491.8" r="2.5"/>
<circle cx="250.1" cy="471.5" r="2.5"/>
<circle cx="254.4" cy="460.1" r="2.5"/>
<circle cx="257.2" cy="473.9" r="2.5"/>
<circle cx="264.4" cy="484.6" r="2.5"/>
<circle cx="268.0" cy="456.5" r="2.5"/>
<circle cx="258.8" cy="473.4" r="2.5"/>
<circle cx="272.8" cy="462.5" r="2.5"/>
<circle cx="275.7" cy="466.7" r="2.5"/>
<circle cx="279.5" cy="471.8" r="2.5"/>
<circle cx="298.7" cy="443.6" r="2.5"/>
<circle cx="309.3" cy="449.0" r="2.5"/>
<circle cx="313.6" cy="445.7" r="2.5"/>
<circle cx="320.6" cy="411.1" r="2.5"/>
<circle cx="325.0" cy="391.4" r="2.5"/>
<circle cx="331.9" cy="372.1" r="2.5"/>
<circle cx="335.7" cy="372.1" r="2.5"/>
<circle cx="344.2" cy="357.4" r="2.5"/>
<circle cx="347.6" cy="348.2" r="2.5"/>
<circle cx="355.0" cy="366.7" r="2.5"/>
<circle cx="358.9" cy="362.8" r="2.5"/>
<circle cx="362.4" cy="332.8" r="2.5"/>
<circle cx="365.8" cy="348.2" r="2.5"/>
<circle cx="370.4" cy="348.2" r="2.5"/>
<circle cx="384.3" cy="357.4" r="2.5"/>
<circle cx="387.4" cy="365.2" r="2.5"/>
<circle cx="392.3" cy="368.6" r="2.5"/>
<circle cx="399.7" cy="346.2" r="2.5"/>
<circle cx="403.4" cy="376.3" r="2.5"/>
<circle cx="410.8" cy="396.3" r="2.5"/>
<circle cx="414.7" cy="398.7" r="2.5"/>
<circle cx="418.5" cy="373.0" r="2.5"/>
<circle cx="422.0" cy="373.2" r="2.5"/>
<circle cx="425.5" cy="373.2" r="2.5"/>
<circle cx="429.3" cy="381.7" r="2.5"/>
<circle cx="433.2" cy="393.3" r="2.5"/>
<circle cx="437.0" cy="396.3" r="2.5"/>
<circle cx="440.9" cy="380.2" r="2.5"/>
<circle cx="444.8" cy="409.4" r="2.5"/>
<circle cx="452.1" cy="418.3" r="2.5"/>
<circle cx="459.9" cy="418.3" r="2.5"/>
<circle cx="470.6" cy="414.9" r="2.5"/>
<circle cx="474.5" cy="420.8" r="2.5"/>
<circle cx="479.1" cy="415.4" r="2.5"/>
<circle cx="482.4" cy="428.4" r="2.5"/>
<circle cx="489.7" cy="411.5" r="2.5"/>
<circle cx="493.9" cy="387.5" r="2.5"/>
<circle cx="497.6" cy="388.8" r="2.5"/>
<circle cx="500.9" cy="417.1" r="2.5"/>
<circle cx="504.8" cy="456.2" r="2.5"/>
<circle cx="516.0" cy="466.3" r="2.5"/>
<circle cx="519.9" cy="481.1" r="2.5"/>
<circle cx="523.6" cy="475.7" r="2.5"/>
<circle cx="526.9" cy="464.3" r="2.5"/>
<circle cx="534.5" cy="434.8" r="2.5"/>
<circle cx="538.4" cy="432.3" r="2.5"/>
<circle cx="542.4" cy="427.2" r="2.5"/>
<circle cx="545.8" cy="436.5" r="2.5"/>
<circle cx="550.2" cy="432.3" r="2.5"/>
<circle cx="558.1" cy="409.6" r="2.5"/>
<circle cx="561.4" cy="412.1" r="2.5"/>
<circle cx="564.8" cy="418.0" r="2.5"/>
<circle cx="569.0" cy="415.5" r="2.5"/>
<circle cx="568.4" cy="416.2" r="2.5"/>
<circle cx="572.6" cy="411.1" r="2.5"/>
<circle cx="576.0" cy="366.5" r="2.5"/>
<circle cx="580.2" cy="372.4" r="2.5"/>
<circle cx="591.1" cy="349.7" r="2.5"/>
<circle cx="594.5" cy="355.6" r="2.5"/>
<circle cx="605.8" cy="344.1" r="2.5"/>
<circle cx="613.2" cy="282.5" r="2.5"/>
<circle cx="617.4" cy="274.1" r="2.5"/>
<circle cx="624.5" cy="274.1" r="2.5"/>
<circle cx="628.7" cy="276.2" r="2.5"/>
<circle cx="632.2" cy="278.3" r="2.5"/>
<circle cx="639.9" cy="267.1" r="2.5"/>
<circle cx="643.4" cy="246.0" r="2.5"/>
<circle cx="647.6" cy="260.8" r="2.5"/>
<circle cx="651.8" cy="259.4" r="2.5"/>
<circle cx="654.6" cy="302.8" r="2.5"/>
<circle cx="658.8" cy="304.9" r="2.5"/>
<circle cx="662.1" cy="331.0" r="2.5"/>
<circle cx="666.0" cy="336.1" r="2.5"/>
<circle cx="669.4" cy="337.7" r="2.5"/>
<circle cx="676.9" cy="325.6" r="2.5"/>
<circle cx="685.0" cy="308.3" r="2.5"/>
<circle cx="689.1" cy="263.7" r="2.5"/>
<circle cx="692.1" cy="267.0" r="2.5"/>
<circle cx="695.8" cy="285.6" r="2.5"/>
<circle cx="699.7" cy="292.3" r="2.5"/>
<circle cx="703.5" cy="320.0" r="2.5"/>
<circle cx="707.6" cy="325.6" r="2.5"/>
<circle cx="714.8" cy="340.3" r="2.5"/>
<circle cx="718.1" cy="370.8" r="2.5"/>
<circle cx="722.2" cy="416.4" r="2.5"/>
<circle cx="725.7" cy="441.0" r="2.5"/>
<circle cx="729.9" cy="437.5" r="2.5"/>
<circle cx="745.0" cy="404.2" r="2.5"/>
<circle cx="748.8" cy="368.2" r="2.5"/>
<circle cx="752.3" cy="361.2" r="2.5"/>
<circle cx="760.2" cy="327.0" r="2.5"/>
<circle cx="763.7" cy="342.4" r="2.5"/>
<circle cx="767.2" cy="356.8" r="2.5"/>
<circle cx="774.2" cy="332.3" r="2.5"/>
<circle cx="775.2" cy="333.1" r="2.5"/>
<circle cx="782.2" cy="338.7" r="2.5"/>
<circle cx="785.7" cy="362.6" r="2.5"/>
<circle cx="789.9" cy="354.9" r="2.5"/>
<circle cx="793.4" cy="326.8" r="2.5"/>
<circle cx="797.2" cy="315.6" r="2.5"/>
<circle cx="805.0" cy="272.8" r="2.5"/>
<circle cx="809.3" cy="269.3" r="2.5"/>
<circle cx="812.7" cy="248.3" r="2.5"/>
<circle cx="816.0" cy="233.1" r="2.5"/>
<circle cx="819.9" cy="241.5" r="2.5"/>
<circle cx="834.6" cy="246.6" r="2.5"/>
<circle cx="843.0" cy="191.9" r="2.5"/>
<circle cx="845.9" cy="158.7" r="2.5"/>
<circle cx="853.4" cy="146.4" r="2.5"/>
<circle cx="857.4" cy="151.3" r="2.5"/>
<circle cx="865.2" cy="125.0" r="2.5"/>
<circle cx="868.7" cy="117.0" r="2.5"/>
<circle cx="876.2" cy="62.3" r="2.5"/>
<circle cx="879.7" cy="89.4" r="2.5"/>
<circle cx="883.7" cy="119.2" r="2.5"/>
<circle cx="887.2" cy="141.2" r="2.5"/>
<circle cx="891.1" cy="147.3" r="2.5"/>
<circle cx="895.0" cy="164.3" r="2.5"/>
<circle cx="906.0" cy="170.1" r="2.5"/>
<circle cx="910.0" cy="137.7" r="2.5"/>
</g>
<rect x="24.9" y="25.6" width="895.9" height="637" fill="none" stroke="#111" stroke-width="1.8"/>
<g stroke="#111" stroke-width="1.6">
<line x1="920" y1="59.3" x2="926" y2="59.3"/>
<line x1="920" y1="119.3" x2="926" y2="119.3"/>
<line x1="920" y1="179.3" x2="926" y2="179.3"/>
<line x1="920" y1="239.3" x2="926" y2="239.3"/>
<line x1="920" y1="299.3" x2="926" y2="299.3"/>
<line x1="920" y1="359.3" x2="926" y2="359.3"/>
<line x1="920" y1="419.3" x2="926" y2="419.3"/>
<line x1="920" y1="479.3" x2="926" y2="479.3"/>
<line x1="920" y1="539.3" x2="926" y2="539.3"/>
<line x1="920" y1="599.3" x2="926" y2="599.3"/>
<line x1="920" y1="659.3" x2="926" y2="659.3"/>
<line x1="26.2" y1="662" x2="26.2" y2="668.5"/>
<line x1="146.2" y1="662" x2="146.2" y2="668.5"/>
<line x1="266.2" y1="662" x2="266.2" y2="668.5"/>
<line x1="386.2" y1="662" x2="386.2" y2="668.5"/>
<line x1="506.2" y1="662" x2="506.2" y2="668.5"/>
<line x1="626.2" y1="662" x2="626.2" y2="668.5"/>
<line x1="746.2" y1="662" x2="746.2" y2="668.5"/>
<line x1="866.2" y1="662" x2="866.2" y2="668.5"/>
</g>
<text x="931.1" y="63.8">1.4285</text>
<text x="931.1" y="123.8">1.4140</text>
<text x="931.1" y="183.8">1.3995</text>
<text x="931.1" y="243.8">1.3850</text>
<text x="931.1" y="303.8">1.3705</text>
<text x="931.1" y="363.8">1.3560</text>
<text x="931.1" y="423.8">1.3415</text>
<text x="931.1" y="483.8">1.3270</text>
<text x="931.1" y="543.8">1.3125</text>
<text x="931.1" y="603.8">1.2980</text>
<text x="931.1" y="663.8">1.2835</text>
<text x="23.0" y="686.4" textLength="94.7" lengthAdjust="spacing">10 Jan 2007</text>
<text x="143.0" y="686.4" textLength="97.8" lengthAdjust="spacing">16 Feb 2007</text>
<text x="263.6" y="686.4" textLength="97.9" lengthAdjust="spacing">26 Mar 2007</text>
<text x="383.5" y="686.4" textLength="93.5" lengthAdjust="spacing">2 May 2007</text>
<text x="503.1" y="686.4" textLength="84.6" lengthAdjust="spacing">8 Jun 2007</text>
<text x="622.5" y="686.4" textLength="90.0" lengthAdjust="spacing">16 Jul 2007</text>
<text x="743.1" y="686.4" textLength="99.7" lengthAdjust="spacing">22 Aug 2007</text>
<text x="864.0" y="686.4" textLength="95.9" lengthAdjust="spacing">27 Sep 2007</text>
<line x1="917" y1="130.4" x2="924" y2="130.4" stroke="#bdbdbd" stroke-width="1.5"/>
<rect x="923.7" y="118.5" width="67.7" height="20.1" fill="#000"/>
<text x="930.8" y="134.6" style="fill:#fff">1.4113</text>
<rect x="30" y="30.3" width="362" height="20.4" fill="#fff"/>
<text x="33.8" y="46.8" textLength="119.9" lengthAdjust="spacing">EURUSD,Daily</text>
<text x="163.7" y="46.8" textLength="54.6" lengthAdjust="spacing">1.4103</text>
<text x="222.2" y="46.8" textLength="53.6" lengthAdjust="spacing">1.4117</text>
<text x="279.9" y="46.8" textLength="52.8" lengthAdjust="spacing">1.4091</text>
<text x="338.2" y="46.8" textLength="53.7" lengthAdjust="spacing">1.4113</text>
<text x="31.8" y="654.6" textLength="99.6" lengthAdjust="spacing">MetaTrader,</text>
<text x="161.2" y="654.6" textLength="81.2" lengthAdjust="spacing">2001-2007</text>
<text x="248.7" y="654.6" textLength="99.8" lengthAdjust="spacing">MetaQuotes</text>
<text x="353.1" y="654.6" textLength="75.6" lengthAdjust="spacing">Software</text>
<text x="434.4" y="654.6" textLength="49.6" lengthAdjust="spacing">Corp.</text>
<text x="135.3" y="656.2" font-size="20" textLength="22" lengthAdjust="spacingAndGlyphs" style="font-size:20px">©</text>
</svg></body></html>
